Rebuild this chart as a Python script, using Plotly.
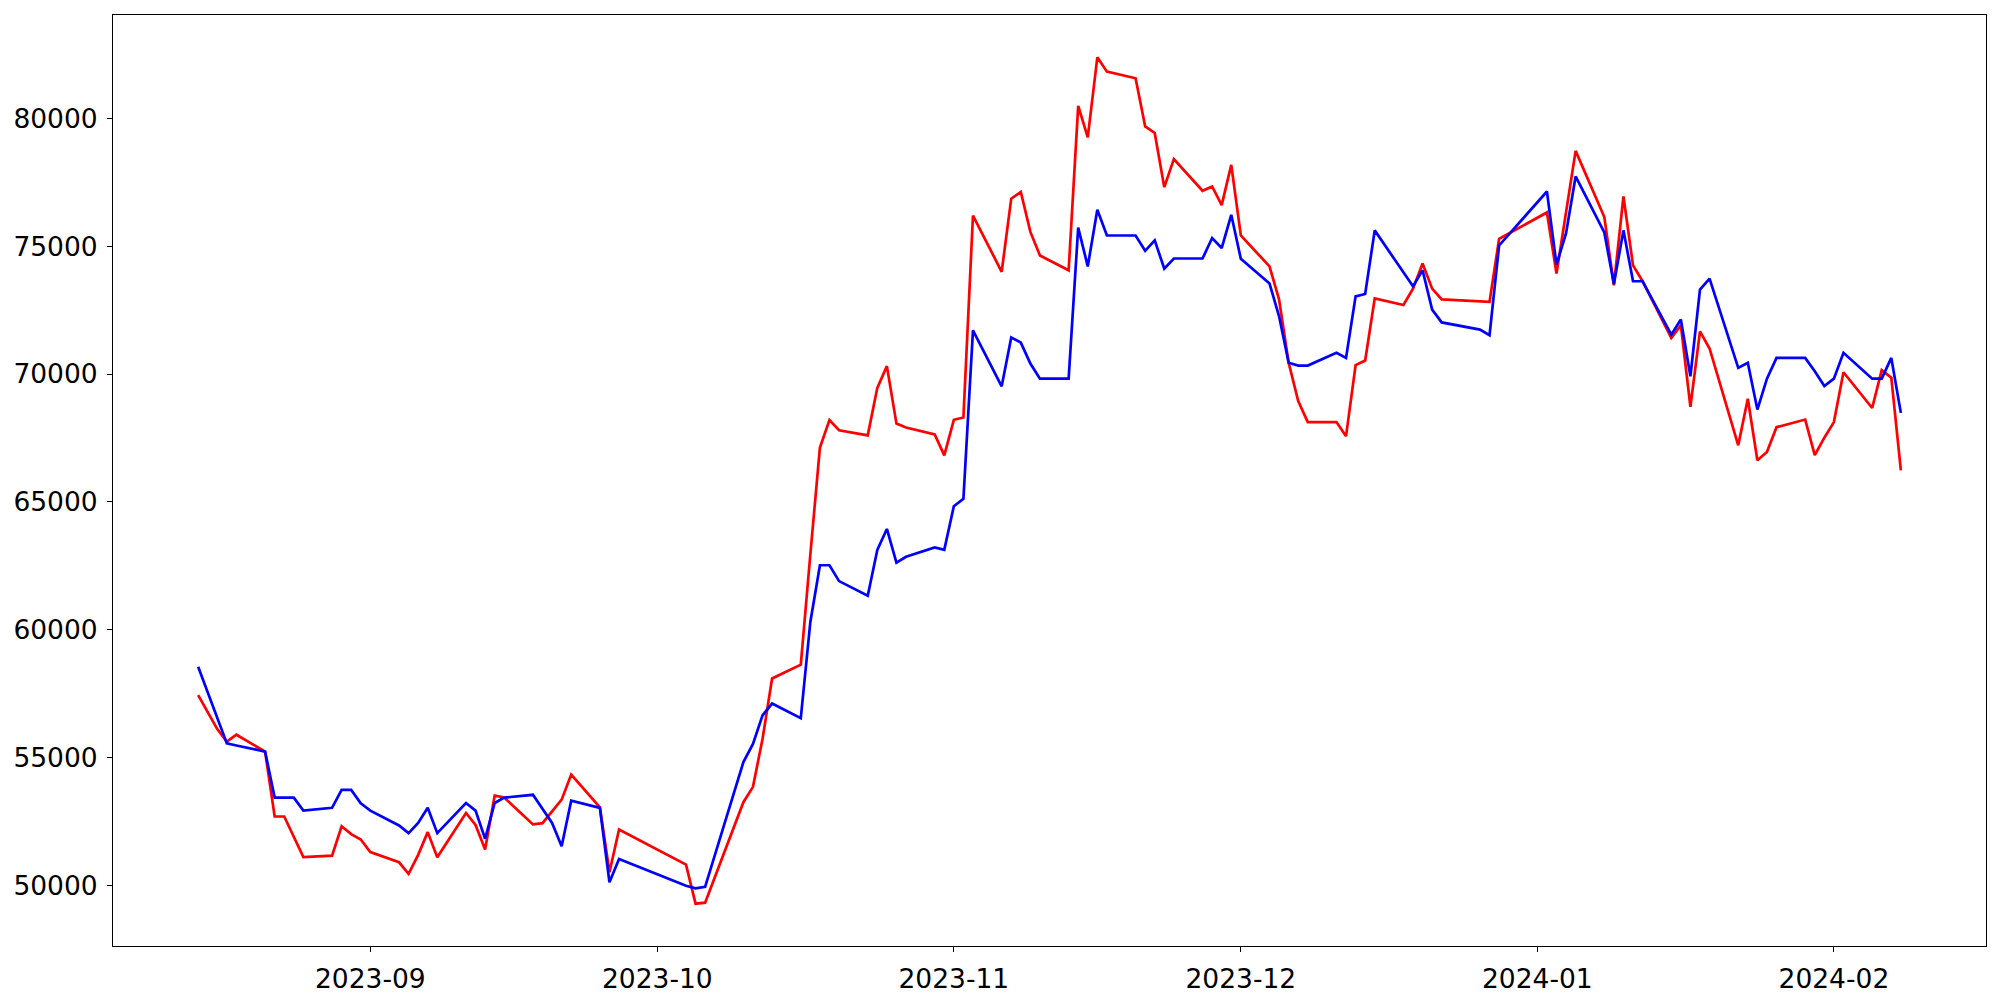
import pandas as pd
import plotly.graph_objects as go

dates = [
    "2023-08-14", "2023-08-16", "2023-08-17", "2023-08-18",
    "2023-08-21", "2023-08-22", "2023-08-23", "2023-08-24", "2023-08-25",
    "2023-08-28", "2023-08-29", "2023-08-30", "2023-08-31", "2023-09-01",
    "2023-09-04", "2023-09-05", "2023-09-06", "2023-09-07", "2023-09-08",
    "2023-09-11", "2023-09-12", "2023-09-13", "2023-09-14", "2023-09-15",
    "2023-09-18", "2023-09-19", "2023-09-20", "2023-09-21", "2023-09-22",
    "2023-09-25", "2023-09-26", "2023-09-27",
    "2023-10-04", "2023-10-05", "2023-10-06",
    "2023-10-10", "2023-10-11", "2023-10-12", "2023-10-13",
    "2023-10-16", "2023-10-17", "2023-10-18", "2023-10-19", "2023-10-20",
    "2023-10-23", "2023-10-24", "2023-10-25", "2023-10-26", "2023-10-27",
    "2023-10-30", "2023-10-31", "2023-11-01", "2023-11-02", "2023-11-03",
    "2023-11-06", "2023-11-07", "2023-11-08", "2023-11-09", "2023-11-10",
    "2023-11-13", "2023-11-14", "2023-11-15", "2023-11-16", "2023-11-17",
    "2023-11-20", "2023-11-21", "2023-11-22", "2023-11-23", "2023-11-24",
    "2023-11-27", "2023-11-28", "2023-11-29", "2023-11-30", "2023-12-01",
    "2023-12-04", "2023-12-05", "2023-12-06", "2023-12-07", "2023-12-08",
    "2023-12-11", "2023-12-12", "2023-12-13", "2023-12-14", "2023-12-15",
    "2023-12-18", "2023-12-19", "2023-12-20", "2023-12-21", "2023-12-22",
    "2023-12-26", "2023-12-27", "2023-12-28",
    "2024-01-02", "2024-01-03", "2024-01-04", "2024-01-05",
    "2024-01-08", "2024-01-09", "2024-01-10", "2024-01-11", "2024-01-12",
    "2024-01-15", "2024-01-16", "2024-01-17", "2024-01-18", "2024-01-19",
    "2024-01-22", "2024-01-23", "2024-01-24", "2024-01-25", "2024-01-26",
    "2024-01-29", "2024-01-30", "2024-01-31", "2024-02-01", "2024-02-02",
    "2024-02-05", "2024-02-06", "2024-02-07", "2024-02-08",
]

red_values = [
    57440, 56110, 55620, 55890,
    55230, 52690, 52690, 51900, 51100,
    51160, 52310, 52000, 51790, 51300,
    50900, 50450, 51190, 52080, 51100,
    52830, 52360, 51400, 53510, 53430,
    52380, 52430, 52880, 53350, 54330,
    53050, 50510, 52180,
    50810, 49280, 49320,
    53250, 53850, 55720, 58090,
    58630, 62950, 67120, 68200, 67800,
    67600, 69460, 70310, 68060, 67910,
    67640, 66820, 68210, 68300, 76200,
    74000, 76860, 77120, 75560, 74640,
    74060, 80490, 79260, 82390, 81830,
    81570, 79690, 79430, 77310, 78410,
    77170, 77340, 76610, 78180, 75420,
    74210, 72910, 70440, 68940, 68120,
    68120, 67570, 70350, 70530, 72960,
    72700, 73340, 74320, 73340, 72920,
    72850, 72820, 75290,
    76320, 73930, 76300, 78730,
    76140, 73470, 76950, 74250, 73630,
    71410, 71910, 68720, 71670, 71000,
    67210, 69030, 66630, 66950, 67920,
    68220, 66830, 67510, 68120, 70070,
    68670, 70150, 69860, 66230,
]

blue_values = [
    58550, 56600, 55550, 55470,
    55230, 53430, 53430, 53430, 52920,
    53030, 53730, 53730, 53210, 52920,
    52340, 52040, 52440, 53030, 52040,
    53220, 52920, 51820, 53220, 53430,
    53540, 52990, 52440, 51530, 53310,
    53030, 50120, 51030,
    49980, 49880, 49940,
    54820, 55530, 56650, 57110,
    56540, 60300, 62520, 62520, 61900,
    61330, 63120, 63940, 62620, 62850,
    63220, 63120, 64830, 65120, 71710,
    69520, 71430, 71230, 70410, 69820,
    69820, 75730, 74210, 76430, 75420,
    75420, 74820, 75230, 74120, 74520,
    74520, 75320, 74930, 76230, 74510,
    73540, 72260, 70440, 70330, 70330,
    70830, 70630, 73040, 73130, 75620,
    73990, 73430, 74060, 72520, 72020,
    71740, 71520, 75030,
    77140, 74280, 75510, 77730,
    75540, 73520, 75620, 73630, 73630,
    71540, 72130, 69910, 73300, 73730,
    70240, 70440, 68610, 69820, 70630,
    70630, 70110, 69530, 69820, 70830,
    69820, 69820, 70630, 68480,
]

x = pd.to_datetime(dates)

fig = go.Figure()
fig.add_trace(go.Scatter(x=x, y=red_values, mode="lines",
                         line=dict(color="#ff0000", width=2.7), showlegend=False))
fig.add_trace(go.Scatter(x=x, y=blue_values, mode="lines",
                         line=dict(color="#0000ff", width=2.7), showlegend=False))

# matplotlib-like 5% margins
xmin, xmax = x.min(), x.max()
xpad = (xmax - xmin) * 0.05
allv = red_values + blue_values
vmin, vmax = min(allv), max(allv)
ypad = (vmax - vmin) * 0.05

axis_common = dict(
    showline=True, linecolor="black", linewidth=1, mirror=True,
    ticks="outside", ticklen=5, tickwidth=1, tickcolor="black",
    showgrid=False, zeroline=False, automargin=False,
    tickfont=dict(family="DejaVu Sans", size=26.5, color="black"),
)

fig.update_layout(
    width=2000, height=1000,
    margin=dict(l=113, r=14, t=15, b=54),
    paper_bgcolor="white", plot_bgcolor="white",
    font=dict(family="DejaVu Sans", size=26.5, color="black"),
    showlegend=False,
    hovermode=False,
    xaxis=dict(type="date", range=[xmin - xpad, xmax + xpad],
               tickformat="%Y-%m", dtick="M1", tick0="2023-09-01",
               ticklabelstandoff=4, **axis_common),
    yaxis=dict(range=[vmin - ypad, vmax + ypad], tick0=50000, dtick=5000,
               tickformat="d", ticklabelstandoff=4, **axis_common),
)

fig.write_html(
    "out.html",
    config={"displayModeBar": False},
    post_script="document.body.style.margin='0';document.body.style.overflow='hidden';",
)
